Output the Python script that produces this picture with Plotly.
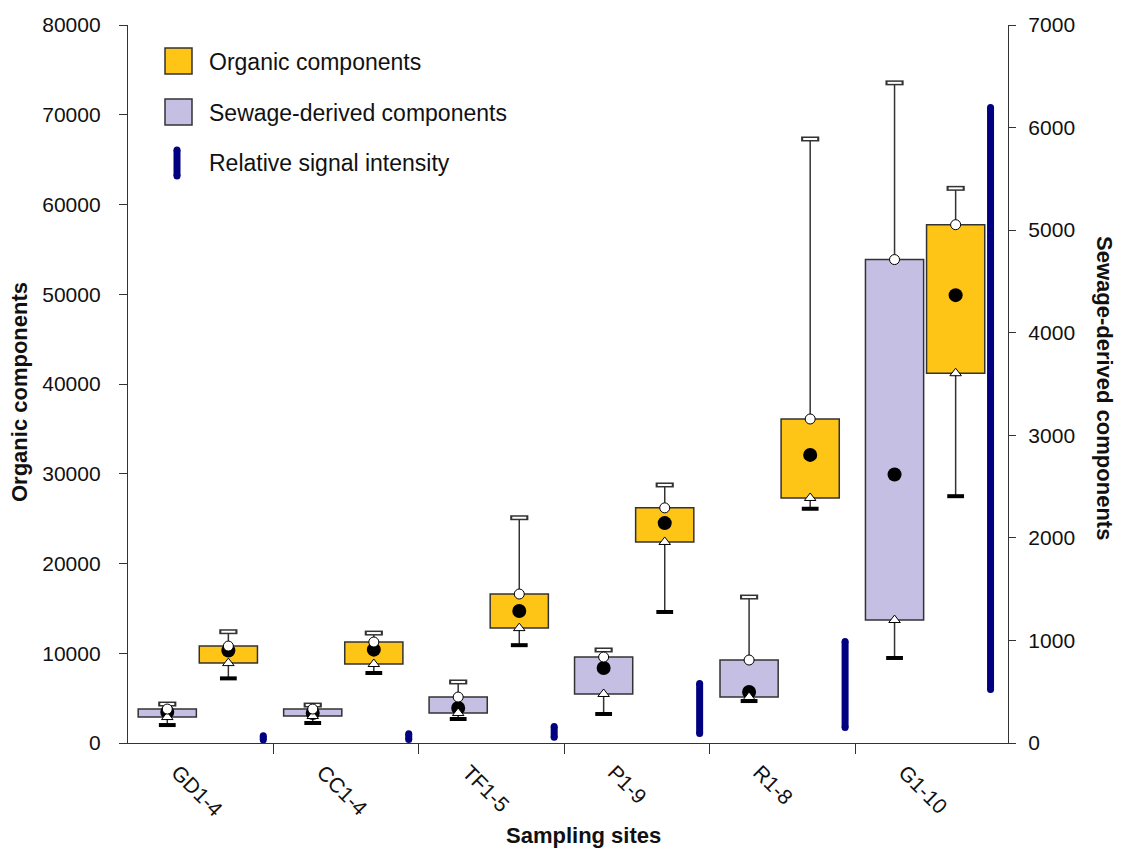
import plotly.graph_objects as go

# ---------------- data ----------------
sites = ["GD1-4", "CC1-4", "TF1-5", "P1-9", "R1-8", "G1-10"]

# Organic components (left axis)
org_min = [7200, 7800, 10900, 14600, 26100, 27500]
org_q1 = [8900, 8800, 12800, 22400, 27300, 41200]
org_mean = [10300, 10400, 14700, 24500, 32100, 49900]
org_q3 = [10800, 11250, 16600, 26200, 36100, 57750]
org_max = [12400, 12250, 25100, 28750, 67300, 61800]

# Sewage-derived components (right axis)
sew_min = [175, 195, 234, 283, 409, 829]
sew_q1 = [253, 263, 292, 478, 448, 1199]
sew_mean = [302, 292, 341, 731, 497, 2618]
sew_q3 = [331, 331, 448, 838, 809, 4713]
sew_max = [380, 370, 595, 907, 1423, 6436]

# Relative signal intensity (drawn on the right-axis scale)
sig_low = [30, 35, 55, 93, 151, 522]
sig_high = [70, 90, 160, 580, 990, 6196]

left_ticks = [0, 10000, 20000, 30000, 40000, 50000, 60000, 70000, 80000]
right_ticks = [0, 1000, 2000, 3000, 4000, 5000, 6000, 7000]

# ---------------- style ----------------
ORANGE = "#FFC516"
PURPLE = "#C5BFE3"
NAVY = "#000080"
EDGE = "#333333"
TXT = "#111111"
FONT = "Liberation Sans, Arial, sans-serif"

OFF_SEW, OFF_ORG, OFF_SIG, BOX_W = -0.23, 0.19, 0.43, 0.40
idx = list(range(len(sites)))

fig = go.Figure()


def segments(xs, lo, hi):
    X, Y = [], []
    for x, a, b in zip(xs, lo, hi):
        X += [x, x, None]
        Y += [a, b, None]
    return X, Y


def add_box(off, mins, q1, mean, q3, maxs, color, yax):
    xs = [i + off for i in idx]
    # whiskers (outside the box only)
    X1, Y1 = segments(xs, mins, q1)
    X2, Y2 = segments(xs, q3, maxs)
    fig.add_trace(go.Scatter(x=X1 + X2, y=Y1 + Y2, mode="lines", yaxis=yax,
                             line=dict(color=EDGE, width=1.5),
                             showlegend=False, hoverinfo="skip"))
    # boxes
    fig.add_trace(go.Bar(x=xs, y=[b - a for a, b in zip(q1, q3)], base=q1,
                         width=BOX_W, yaxis=yax,
                         marker=dict(color=color, line=dict(color=EDGE, width=1.5)),
                         showlegend=False))
    # lower cap (filled bar)
    fig.add_trace(go.Scatter(x=xs, y=mins, mode="markers", yaxis=yax,
                             marker=dict(symbol="line-ew", size=12, color="black",
                                         line=dict(color="black", width=4)),
                             showlegend=False, hoverinfo="skip"))
    # upper cap (hollow bar)
    fig.add_trace(go.Scatter(x=xs, y=maxs, mode="markers", yaxis=yax,
                             marker=dict(symbol="line-ew", size=13, color=EDGE,
                                         line=dict(color=EDGE, width=5)),
                             showlegend=False, hoverinfo="skip"))
    fig.add_trace(go.Scatter(x=xs, y=maxs, mode="markers", yaxis=yax,
                             marker=dict(symbol="line-ew", size=10, color="white",
                                         line=dict(color="white", width=2)),
                             showlegend=False, hoverinfo="skip"))
    # mean dot
    fig.add_trace(go.Scatter(x=xs, y=mean, mode="markers", yaxis=yax,
                             marker=dict(symbol="circle", size=14, color="black"),
                             showlegend=False))
    # lower quartile triangle
    fig.add_trace(go.Scatter(x=xs, y=q1, mode="markers", yaxis=yax,
                             marker=dict(symbol="triangle-up", size=10, color="white",
                                         line=dict(color="black", width=1)),
                             showlegend=False))
    # upper quartile circle
    fig.add_trace(go.Scatter(x=xs, y=q3, mode="markers", yaxis=yax,
                             marker=dict(symbol="circle", size=10, color="white",
                                         line=dict(color="black", width=1)),
                             showlegend=False))


add_box(OFF_ORG, org_min, org_q1, org_mean, org_q3, org_max, ORANGE, "y")
add_box(OFF_SEW, sew_min, sew_q1, sew_mean, sew_q3, sew_max, PURPLE, "y2")

# relative signal intensity bars (thick rounded lines)
xs_sig = [i + OFF_SIG for i in idx]
XS, YS = segments(xs_sig, sig_low, sig_high)
fig.add_trace(go.Scatter(x=XS, y=YS, mode="lines+markers", yaxis="y2",
                         line=dict(color=NAVY, width=7),
                         marker=dict(symbol="circle", size=7, color=NAVY),
                         showlegend=False))

# dummy trace to register the label axis
fig.add_trace(go.Scatter(x=[0], y=[None], xaxis="x2", mode="markers",
                         showlegend=False, hoverinfo="skip"))

# ---------------- layout ----------------
L, R, T, B = 128, 115, 25, 111
W, H = 1123, 854
PW, PH = W - L - R, H - T - B


def px(x):
    return (x - L) / PW


def py(y):
    return (H - B - y) / PH


xr = [-0.5, 5.55]
axis_font = dict(family=FONT, size=21, color=TXT)

fig.update_layout(
    width=W, height=H,
    margin=dict(l=L, r=R, t=T, b=B, autoexpand=False),
    paper_bgcolor="white", plot_bgcolor="white",
    barmode="overlay",
    showlegend=False,
    xaxis=dict(range=xr, tickmode="array", tickvals=[i + 0.5 for i in range(5)],
               ticktext=[""] * 5, ticks="outside", ticklen=10, tickcolor=EDGE,
               showline=True, linecolor=EDGE, linewidth=1.3,
               showgrid=False, zeroline=False),
    xaxis2=dict(range=xr, overlaying="x", anchor="y", side="bottom",
                tickmode="array", tickvals=[i - 0.16 for i in idx], ticktext=sites,
                tickangle=45, ticks="", showline=False, showgrid=False,
                zeroline=False, tickfont=axis_font, ticklabelstandoff=12),
    yaxis=dict(range=[0, 80000], tickmode="array", tickvals=left_ticks,
               ticktext=[str(v) for v in left_ticks],
               ticks="outside", ticklen=8, tickcolor=EDGE,
               showline=True, linecolor=EDGE, linewidth=1.3,
               showgrid=False, zeroline=False, tickfont=axis_font,
               ticklabelstandoff=14),
    yaxis2=dict(range=[0, 7000], overlaying="y", side="right", anchor="x",
                tickmode="array", tickvals=right_ticks,
                ticktext=[str(v) for v in right_ticks],
                ticks="outside", ticklen=7, tickcolor=EDGE,
                showline=True, linecolor=EDGE, linewidth=1.3,
                showgrid=False, zeroline=False, tickfont=axis_font,
                ticklabelstandoff=8),
)

title_font = dict(family=FONT, size=22, color=TXT)
annotations = [
    dict(text="<b>Organic components</b>", textangle=-90, x=px(19), y=py(392),
         xref="paper", yref="paper", showarrow=False, font=title_font,
         xanchor="center", yanchor="middle"),
    dict(text="<b>Sewage-derived components</b>", textangle=90, x=px(1105), y=py(388),
         xref="paper", yref="paper", showarrow=False, font=title_font,
         xanchor="center", yanchor="middle"),
    dict(text="<b>Sampling sites</b>", x=px(583), y=py(835),
         xref="paper", yref="paper", showarrow=False, font=title_font,
         xanchor="center", yanchor="middle"),
]

legend_font = dict(family=FONT, size=23, color=TXT)
legend_items = [("Organic components", 62), ("Sewage-derived components", 113),
                ("Relative signal intensity", 163)]
for text, yc in legend_items:
    annotations.append(dict(text=text, x=px(207), y=py(yc), xref="paper", yref="paper",
                            showarrow=False, font=legend_font,
                            xanchor="left", yanchor="middle"))

shapes = [
    dict(type="rect", xref="paper", yref="paper", x0=px(165), x1=px(192),
         y0=py(74), y1=py(48), fillcolor=ORANGE, line=dict(color=EDGE, width=1.5)),
    dict(type="rect", xref="paper", yref="paper", x0=px(165), x1=px(192),
         y0=py(125), y1=py(99), fillcolor=PURPLE, line=dict(color=EDGE, width=1.5)),
    dict(type="line", xref="paper", yref="paper", x0=px(177), x1=px(177),
         y0=py(176), y1=py(150), line=dict(color=NAVY, width=7)),
]
for yy in (150, 176):
    shapes.append(dict(type="circle", xref="paper", yref="paper",
                       xsizemode="pixel", ysizemode="pixel",
                       xanchor=px(177), yanchor=py(yy),
                       x0=-3.5, x1=3.5, y0=-3.5, y1=3.5,
                       fillcolor=NAVY, line=dict(width=0)))

fig.update_layout(annotations=annotations, shapes=shapes)

fig.write_html("out.html")
